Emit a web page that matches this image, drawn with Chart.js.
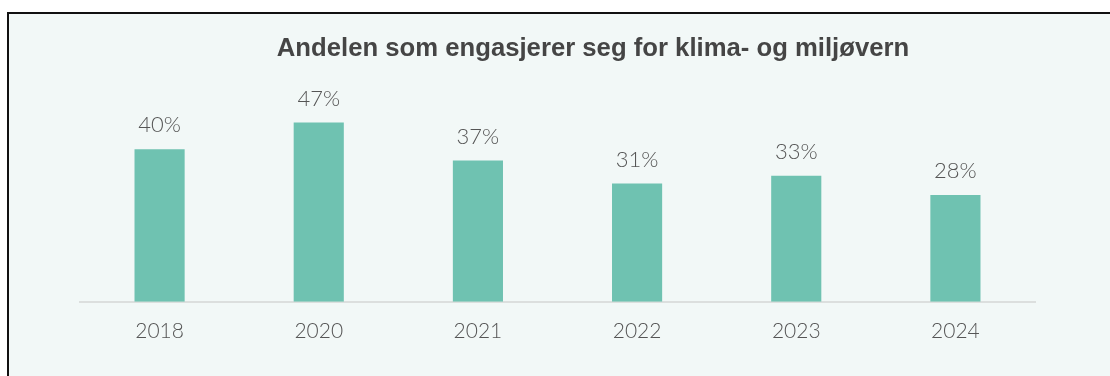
<!DOCTYPE html>
<html>
<head>
<meta charset="utf-8">
<script src="https://cdn.jsdelivr.net/npm/chart.js@4/dist/chart.umd.min.js"></script>
<style>
  html, body { margin: 0; padding: 0; background: #ffffff; overflow: hidden; }
  #frame {
    position: absolute; left: 7px; top: 12px; right: -20px; bottom: -20px;
    border: 2px solid #111; background: #f2f8f7;
  }
  #wrap { position: absolute; left: 0; top: 0; width: 1110px; height: 376px; }
</style>
</head>
<body>
<div id="frame"></div>
<div id="wrap"><canvas id="c" width="1110" height="376"></canvas></div>
<script>
const years = ['2018', '2020', '2021', '2022', '2023', '2024'];
const shares = [40, 47, 37, 31, 33, 28];
const titleText = 'Andelen som engasjerer seg for klima- og miljøvern';

// Heading centred over the panel, drawn above the plot area
const heading = {
  id: 'heading',
  afterDraw(chart) {
    const ctx = chart.ctx;
    ctx.save();
    ctx.font = 'bold 25.7px "Liberation Sans", Arial, sans-serif';
    ctx.fillStyle = '#454545';
    ctx.textAlign = 'center';
    ctx.textBaseline = 'alphabetic';
    ctx.fillText(titleText, 593, 56);
    ctx.restore();
  }
};

// Percentage written above each bar
const valueLabels = {
  id: 'valueLabels',
  afterDatasetsDraw(chart) {
    const ctx = chart.ctx;
    const meta = chart.getDatasetMeta(0);
    ctx.save();
    ctx.font = '300 22px Lato, "Open Sans", sans-serif';
    ctx.fillStyle = '#555555';
    ctx.textAlign = 'center';
    ctx.textBaseline = 'middle';
    meta.data.forEach((bar, i) => {
      ctx.fillText(shares[i] + '%', bar.x, bar.y - 24);
    });
    ctx.restore();
  }
};

new Chart(document.getElementById('c'), {
  type: 'bar',
  data: {
    labels: years,
    datasets: [{
      data: shares,
      backgroundColor: '#6fc2b1',
      borderWidth: 0,
      barPercentage: 0.63,
      categoryPercentage: 0.5
    }]
  },
  options: {
    responsive: false,
    animation: false,
    layout: { padding: { left: 80, right: 75, top: 111, bottom: 15 } },
    plugins: {
      legend: { display: false },
      tooltip: { enabled: false },
      title: { display: false }
    },
    scales: {
      x: {
        grid: { display: false, drawTicks: false },
        border: { display: true, color: '#dcdfde', width: 2 },
        ticks: {
          color: '#555555',
          padding: 17,
          font: { family: 'Lato, "Open Sans", sans-serif', size: 21, weight: '300' }
        }
      },
      y: {
        display: false,
        min: 0,
        max: 50
      }
    }
  },
  plugins: [valueLabels, heading]
});
</script>
</body>
</html>
